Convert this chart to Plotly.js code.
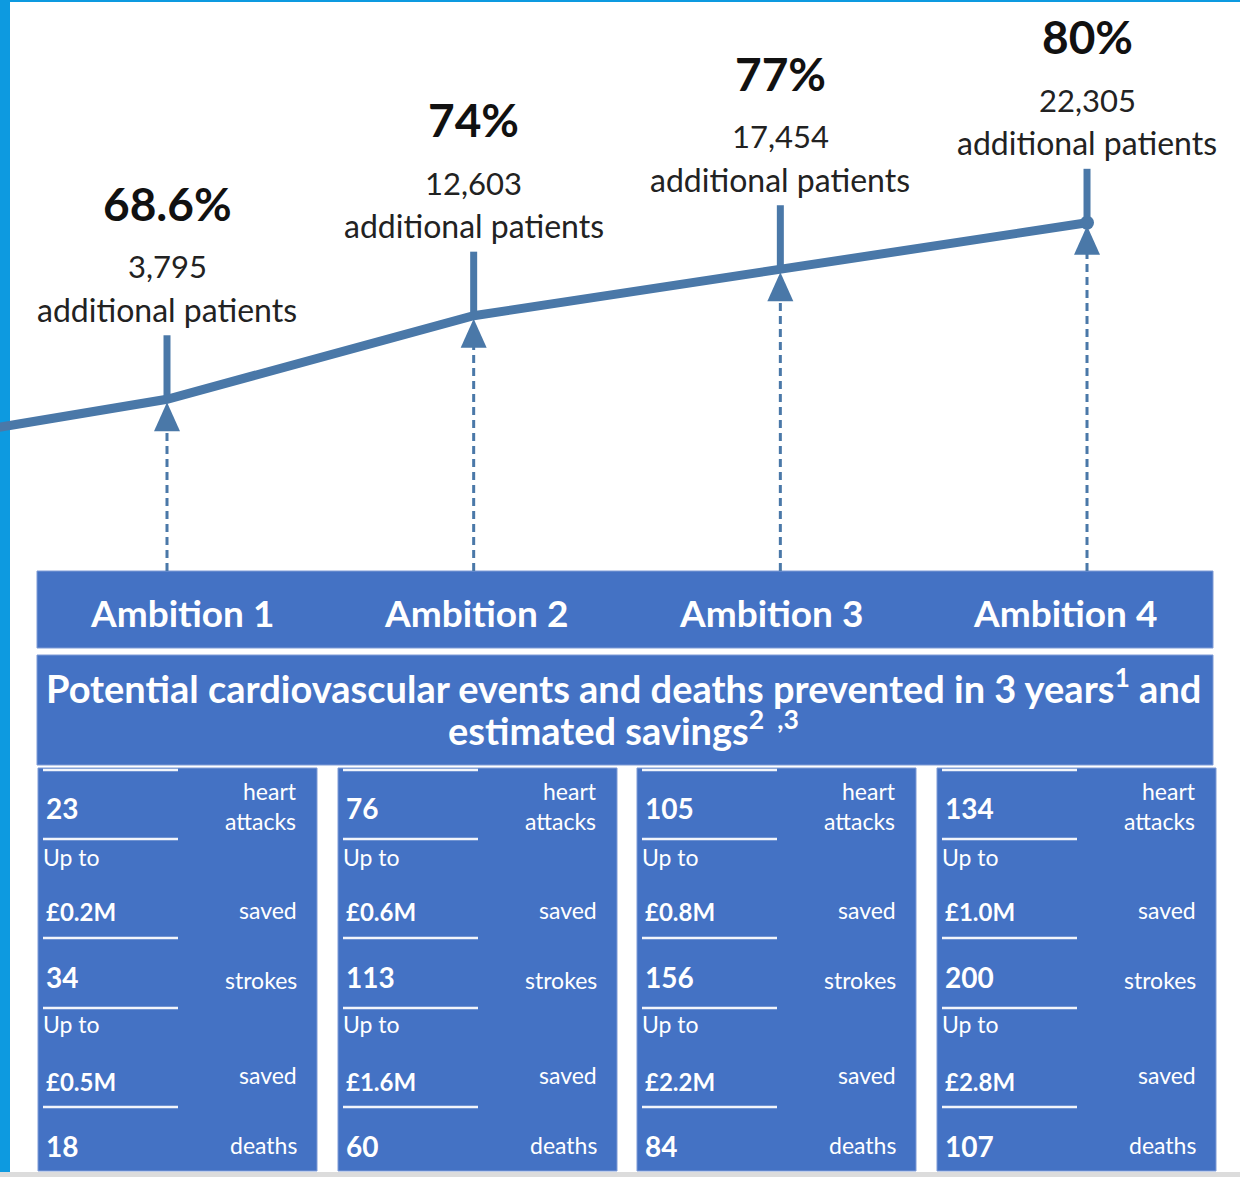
<!DOCTYPE html>
<html>
<head>
<meta charset="utf-8">
<script src="https://cdn.plot.ly/plotly-3.0.1.min.js"></script>
<style>html,body{margin:0;padding:0;background:#fff;}#chart{width:1240px;height:1177px;}</style>
</head>
<body>
<div id="chart"></div>
<script>
// ---------------- DATA ----------------
const ambitions = ['Ambition 1', 'Ambition 2', 'Ambition 3', 'Ambition 4'];
const baselineUptake = 65.3;               // start of the line (cropped at left edge, estimated)
const uptake = [68.6, 74, 77, 80];          // % uptake per ambition
const uptakeLabels = ['68.6%', '74%', '77%', '80%'];
const additionalPatients = [3795, 12603, 17454, 22305];
const heartAttacks = [23, 76, 105, 134];
const heartAttackSavings = [0.2, 0.6, 0.8, 1.0];   // £M
const strokes = [34, 113, 156, 200];
const strokeSavings = [0.5, 1.6, 2.2, 2.8];        // £M
const deaths = [18, 60, 84, 107];
const panelTitleLines = ['Potential cardiovascular events and deaths prevented in 3 years<sup>1</sup> and',
                         'estimated savings<sup>2  ,3</sup>'];

// ---------------- LAYOUT CONSTANTS ----------------
const W = 1240, H = 1177;
const FONT = 'Lato, "Open Sans", sans-serif';
const LINE = '#4a78a8';
const BOX = '#4472c4';
const BOXEDGE = '#7f9bd6';
// x axis: category positions 1..4
const SX = 306.67, X0PX = 167 - SX;            // px per unit, px of x=0
const xRange = [(0 - X0PX) / SX, (W - X0PX) / SX];
// y axis (percent)
const KY = 15.48, YREFPX = 301.75, YREF = 74.9;
const yRange = [YREF - (H - YREFPX) / KY, YREF + YREFPX / KY];
const py2y = p => YREF - (p - YREFPX) / KY;
const dpx = p => p / KY;   // pixel -> data units (y)
const dpxX = p => p / SX;  // pixel -> data units (x)
const px = p => p / W, py = p => 1 - p / H;
const shiftA = [0, 0, 0, 10];

const xs = ambitions.map((_, i) => i + 1);
const traces = [];

// dashed connectors + arrowheads
const boxTopY = py2y(571);
xs.forEach((x, i) => {
  const y = uptake[i];
  traces.push({x: [x, x], y: [boxTopY, y - dpx(30)], mode: 'lines',
    line: {color: LINE, width: 3, dash: '8px,5px'}, hoverinfo: 'skip'});
  traces.push({x: [x - dpxX(13), x + dpxX(13), x, x - dpxX(13)],
    y: [y - dpx(32), y - dpx(32), y - dpx(3), y - dpx(32)],
    mode: 'lines', fill: 'toself', fillcolor: LINE, line: {color: LINE, width: 0}, hoverinfo: 'skip'});
  // stem above point
  traces.push({x: [x, x], y: [y, y + dpx(64 - shiftA[i])], mode: 'lines',
    line: {color: LINE, width: 7}, hoverinfo: 'skip'});
});
// main uptake line
traces.push({x: [0].concat(xs), y: [baselineUptake].concat(uptake), mode: 'lines',
  line: {color: LINE, width: 9}, hoverinfo: 'skip'});
traces.push({x: [xs[xs.length - 1]], y: [uptake[uptake.length - 1]], mode: 'markers',
  marker: {color: LINE, size: 14}, hoverinfo: 'skip'});

// ---------------- SHAPES ----------------
const shapes = [];
const rect = (x0, y0, x1, y1, fill, line, lw) => shapes.push({type: 'rect', xref: 'paper', yref: 'paper',
  x0: px(x0), x1: px(x1), y0: py(y1), y1: py(y0), fillcolor: fill, line: {color: line || fill, width: lw || 0}, layer: 'below'});
rect(0, 0, 10, H, '#0d9ae0');
rect(0, 0, W, 2, '#0d9ae0');
rect(0, 1172, W, H, '#dcdcdc');
rect(37, 571, 1213, 648, BOX, BOXEDGE, 1);
rect(37, 655, 1213, 765, BOX, BOXEDGE, 1);
const cardL = [38, 338, 637, 937], CW = 279;
cardL.forEach(L => {
  rect(L, 768, L + CW, 1171, BOX, BOXEDGE, 1);
  [770, 839, 938, 1008, 1107].forEach(yy => shapes.push({type: 'line', xref: 'paper', yref: 'paper',
    x0: px(L + 5), x1: px(L + 140), y0: py(yy), y1: py(yy), line: {color: '#f2f5fb', width: 2.5}}));
});

// ---------------- ANNOTATIONS ----------------
const ann = [];
xs.forEach((x, i) => {
  const y = uptake[i];
  ann.push({x, y, xref: 'x', yref: 'y', xanchor: 'center', text: '<b>' + uptakeLabels[i] + '</b>', showarrow: false,
    yshift: 196 - shiftA[i], font: {family: FONT, size: 46, color: '#111'}});
  ann.push({x, y, xref: 'x', yref: 'y', xanchor: 'center', text: additionalPatients[i].toLocaleString('en-GB'), showarrow: false,
    yshift: 133 - shiftA[i], font: {family: FONT, size: 31, color: '#222'}});
  ann.push({x, y, xref: 'x', yref: 'y', xanchor: 'center', text: 'additional patients', showarrow: false,
    yshift: 90 - shiftA[i], font: {family: FONT, size: 32, color: '#222'}});
});
ambitions.forEach((a, i) => {
  ann.push({x: px(182 + i * 294.3), y: py(612), xref: 'paper', yref: 'paper', xanchor: 'center', yanchor: 'middle',
    text: '<b>' + a + '</b>', showarrow: false, font: {family: FONT, size: 37, color: '#fff'}});
});
panelTitleLines.forEach((t, j) => {
  ann.push({x: px(624), y: py(686 + j * 42), xref: 'paper', yref: 'paper', xanchor: 'center', yanchor: 'middle',
    text: '<b>' + t + '</b>', showarrow: false, align: 'center',
    font: {family: FONT, size: 38, color: '#fff'}});
});

const fmtM = v => '£' + v.toFixed(1) + 'M';
cardL.forEach((L, i) => {
  const left = (t, yy, size, bold) => ann.push({x: px(L + 6), y: py(yy), xref: 'paper', yref: 'paper',
    xanchor: 'left', yanchor: 'middle', text: bold ? '<b>' + t + '</b>' : t, showarrow: false,
    font: {family: FONT, size, color: '#fff'}});
  const right = (t, yy) => ann.push({x: px(L + 261), y: py(yy), xref: 'paper', yref: 'paper',
    xanchor: 'right', yanchor: 'middle', align: 'right', text: t, showarrow: false,
    font: {family: FONT, size: 23, color: '#fff'}});
  left(String(heartAttacks[i]), 808, 28, true);
  right('heart<br>attacks', 806);
  ann.push({x: px(L + 3), y: py(857), xref: 'paper', yref: 'paper', xanchor: 'left', yanchor: 'middle',
    text: 'Up to', showarrow: false, font: {family: FONT, size: 23, color: '#fff'}});
  left(fmtM(heartAttackSavings[i]), 912, 24, true);
  right('saved', 910);
  left(String(strokes[i]), 977, 28, true);
  right('strokes', 980);
  ann.push({x: px(L + 3), y: py(1024), xref: 'paper', yref: 'paper', xanchor: 'left', yanchor: 'middle',
    text: 'Up to', showarrow: false, font: {family: FONT, size: 23, color: '#fff'}});
  left(fmtM(strokeSavings[i]), 1081, 24, true);
  right('saved', 1075);
  left(String(deaths[i]), 1146, 28, true);
  right('deaths', 1145);
});

const layout = {
  width: W, height: H, margin: {l: 0, r: 0, t: 0, b: 0},
  paper_bgcolor: '#fff', plot_bgcolor: '#fff', showlegend: false,
  xaxis: {range: xRange, visible: false, fixedrange: true},
  yaxis: {range: yRange, visible: false, fixedrange: true},
  shapes, annotations: ann
};
Plotly.newPlot('chart', traces, layout, {displayModeBar: false, staticPlot: true});
</script>
</body>
</html>
